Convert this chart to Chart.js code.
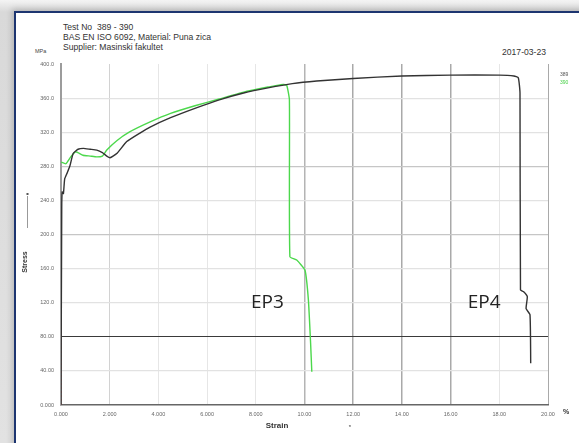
<!DOCTYPE html>
<html>
<head>
<meta charset="utf-8">
<script src="https://cdn.jsdelivr.net/npm/chart.js@4"></script>
<style>
    html, body { margin: 0; padding: 0; }
    body {
        width: 579px; height: 443px; overflow: hidden; position: relative;
        background: linear-gradient(#f4f4f4, #d9d9d9 12px, #e2e2e2);
        font-family: "Liberation Sans", Arial, sans-serif;
    }
    #frame {
        position: absolute; left: 14px; top: 11px; width: 600px; height: 460px;
        background: #fff; border-top: 2px solid #1d3570; border-left: 2px solid #1d3570;
        box-shadow: -2px -2px 6px rgba(0,0,0,0.18);
    }
    .hdr { position: absolute; left: 63px; font-size: 8.6px; color: #333; line-height: 10px; white-space: nowrap; }
    #date { position: absolute; right: 33px; top: 47px; font-size: 8.6px; color: #333; }
    #mpa { position: absolute; left: 35px; top: 48px; font-size: 5.5px; color: #444; }
    canvas { position: absolute; left: 0; top: 0; }
</style>
</head>
<body>
<div id="frame"></div>
<div class="hdr" style="top:22px">Test No&nbsp; 389 - 390</div>
<div class="hdr" style="top:32px">BAS EN ISO 6092, Material: Puna zica</div>
<div class="hdr" style="top:42px">Supplier: Masinski fakultet</div>
<div id="date">2017-03-23</div>
<div id="mpa">MPa</div>
<canvas id="chart" width="579" height="443"></canvas>
<script>
// Ispitivanje zatezanjem - uzorci 389 (EP4) i 390 (EP3)

const strain389 = [0, 0.03, 0.05, 0.1, 0.15, 0.25, 0.37, 0.5, 0.7, 0.92, 1.2, 1.47, 1.7, 1.88, 2.01, 2.29, 2.7, 3.24, 3.66, 4.5, 5.5, 6.5, 7.5, 8.5, 9.5, 10.5, 12, 14, 16, 18, 18.6, 18.78, 18.85, 18.87, 18.99, 19.15, 19.1, 19.26, 19.29];
const stress389 = [0, 232, 250, 248, 265, 272, 281, 295, 300, 301, 300, 299, 296, 292, 290, 295, 309, 319, 326, 337, 348, 358, 366, 372, 377, 380, 383, 386, 387, 387, 386, 384, 366, 135, 133, 127, 113, 106, 49];

const strain390 = [0, 0.2, 0.4, 0.6, 0.9, 1.2, 1.47, 1.7, 1.88, 2.29, 2.8, 3.66, 4.5, 5.5, 6.5, 7.5, 8.5, 8.72, 9.13, 9.27, 9.38, 9.4, 9.68, 10.02, 10.16, 10.25, 10.3];
const stress390 = [285, 283, 291, 297, 293, 292, 291, 292, 299, 310, 320, 332, 342, 351, 359, 367, 373, 374, 376, 375, 358, 174, 170, 158, 123, 73, 39];

const startStrain = [0, 0];
const startStress = [0, 232];

const xTickLabels = ['0.000', '2.000', '4.000', '6.000', '8.000', '10.00', '12.00', '14.00', '16.00', '18.00', '20.00'];
const yTickLabels = ['0.000', '40.00', '80.00', '120.0', '160.0', '200.0', '240.0', '280.0', '320.0', '360.0', '400.0'];

const toPoints = (xs, ys) => xs.map((x, i) => ({ x: x, y: ys[i] }));

// natpisi i ukrasi oko grafika
const decorPlugin = {
    id: 'decor',
    afterDraw(chart) {
        const { ctx, scales: { x, y } } = chart;
        ctx.save();
        // EP oznake
        ctx.fillStyle = '#222';
        ctx.font = '19px "Open Sans", "DejaVu Sans", sans-serif';
        ctx.textBaseline = 'alphabetic';
        ctx.fillText('EP3', x.getPixelForValue(7.8), y.getPixelForValue(114));
        ctx.fillText('EP4', x.getPixelForValue(16.7), y.getPixelForValue(114));

        // legenda
        ctx.font = '5px "Liberation Sans", Arial, sans-serif';
        ctx.textAlign = 'left';
        ctx.textBaseline = 'middle';
        ctx.fillStyle = '#555';
        ctx.fillText('389', 560, 75);
        ctx.fillStyle = '#44d044';
        ctx.fillText('390', 560, 83);

        // naslovi osa
        ctx.fillStyle = '#333';
        ctx.font = 'bold 8px "Liberation Sans", Arial, sans-serif';
        ctx.textAlign = 'center';
        ctx.fillText('Strain', 277, 426);
        ctx.font = 'bold 7px "Liberation Sans", Arial, sans-serif';
        ctx.fillText('%', 566, 412);
        ctx.font = '6px "Liberation Sans", Arial, sans-serif';
        ctx.fillText('*', 350, 427);

        ctx.translate(25, 262);
        ctx.rotate(-Math.PI / 2);
        ctx.font = 'bold 7px "Liberation Sans", Arial, sans-serif';
        ctx.fillText('Stress', 0, 0);
        ctx.restore();

        ctx.save();
        ctx.strokeStyle = '#999';
        ctx.lineWidth = 1;
        ctx.beginPath();
        ctx.moveTo(27.5, 196);
        ctx.lineTo(27.5, 228);
        ctx.stroke();
        ctx.fillStyle = '#555';
        ctx.fillRect(26.5, 193, 2, 2);
        ctx.restore();
    }
};

function xGridColor(ctx) {
    const v = ctx.tick.value;
    if (v === 0) return 'rgba(0,0,0,0)';
    if (v >= 12 && v <= 16) return '#a9a9a9';
    if (v === 10) return '#b4b4b4';
    if (v === 20) return '#a9a9a9';
    if (v === 2) return '#d2d2d2';
    return '#e6e6e6';
}

function yGridColor(ctx) {
    const v = ctx.tick.value;
    if (v === 0 || v === 400) return 'rgba(0,0,0,0)';
    if (v === 80) return '#3a3a3a';
    if (v === 280 || v === 200) return '#c6c6c6';
    return '#e2e2e2';
}

new Chart(document.getElementById('chart'), {
    type: 'line',
    data: {
        datasets: [{
            label: '389',
            data: toPoints(strain389, stress389),
            borderColor: '#333',
            borderWidth: 1.4,
            pointRadius: 0,
            tension: 0.15,
        }, {
            label: '390',
            data: toPoints(strain390, stress390),
            borderColor: '#4cd84c',
            borderWidth: 1.4,
            pointRadius: 0,
            tension: 0.15,
        }, {
            label: 'start',
            data: toPoints(startStrain, startStress),
            borderColor: '#e06060',
            borderWidth: 1,
            borderDash: [2, 2],
            pointRadius: 0,
        }],
    },
    options: {
        responsive: false,
        animation: false,
        layout: {
            padding: { top: 64, right: 31, left: 0, bottom: 0 },
        },
        plugins: {
            legend: { display: false },
            tooltip: { enabled: false },
        },
        scales: {
            x: {
                type: 'linear',
                min: 0,
                max: 20,
                afterFit: (scale) => { scale.height = 38; },
                border: { color: '#666', width: 1.5 },
                grid: {
                    color: xGridColor,
                    lineWidth: (ctx) => (ctx.tick.value >= 10 && ctx.tick.value <= 16 ? 1.5 : 1),
                    drawTicks: false,
                },
                ticks: {
                    stepSize: 2,
                    padding: 6,
                    color: '#666',
                    font: { size: 5.5, family: '"Liberation Sans", Arial, sans-serif' },
                    maxRotation: 0,
                    callback: (v) => xTickLabels[Math.round(v / 2)],
                },
            },
            y: {
                min: 0,
                max: 400,
                afterFit: (scale) => { scale.width = 61; },
                border: { color: '#9c9c9c', width: 2 },
                grid: {
                    color: yGridColor,
                    lineWidth: (ctx) => (ctx.tick.value === 80 ? 1 : 1.2),
                    drawTicks: false,
                },
                ticks: {
                    stepSize: 40,
                    padding: 7,
                    color: '#666',
                    font: { size: 5.5, family: '"Liberation Sans", Arial, sans-serif' },
                    callback: (v) => yTickLabels[Math.round(v / 40)],
                },
            },
        },
    },
    plugins: [decorPlugin],
});
</script>
</body>
</html>
